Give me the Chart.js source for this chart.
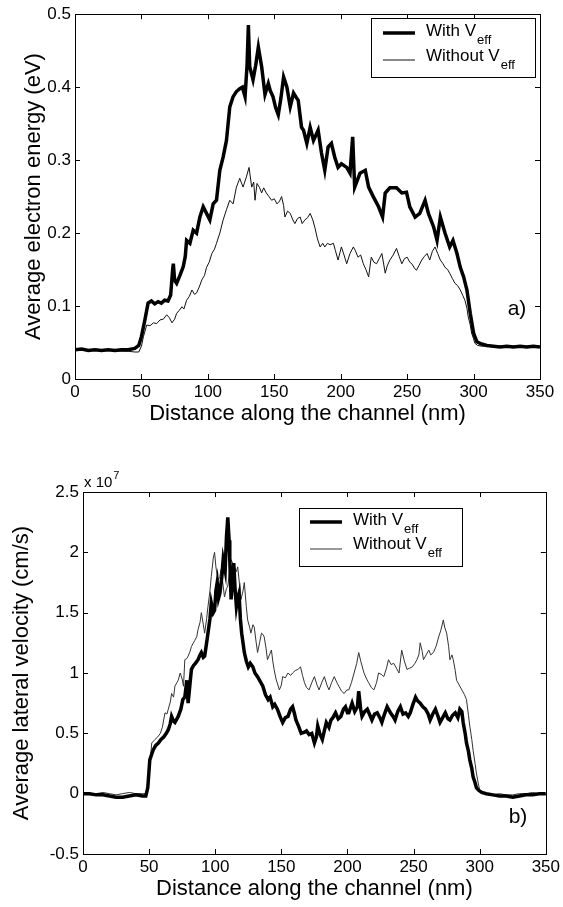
<!DOCTYPE html>
<html>
<head>
<meta charset="utf-8">
<script src="https://cdn.jsdelivr.net/npm/chart.js@4.4.0/dist/chart.umd.min.js"></script>
<style>
  body { margin: 0; background: #fff; }
  #energyBox { position: absolute; left: 0; top: 0; }
  #velocityBox { position: absolute; left: 0; top: 450px; }
</style>
</head>
<body>
<div id="energyBox"><canvas id="energy" width="563" height="432"></canvas></div>
<div id="velocityBox"><canvas id="velocity" width="563" height="457"></canvas></div>
<script>
// Tick values
const xTicks = [0, 50, 100, 150, 200, 250, 300, 350];
const energyTicks = [0, 0.1, 0.2, 0.3, 0.4, 0.5];
const velocityTicks = [-0.5, 0, 0.5, 1, 1.5, 2, 2.5];

// Series labels
const seriesNames = ['With V', 'Without V'];
const seriesSub = 'eff';

// a) Average electron energy (eV) vs distance (nm), [x, y]
const energyWith = [
  [0,0.040],[5,0.041],[10,0.039],[15,0.040],[20,0.039],[25,0.040],[30,0.039],[35,0.040],[40,0.040],[45,0.042],
  [48,0.046],[50,0.058],[52.5,0.080],[55,0.104],[57.5,0.107],[60,0.103],[62.5,0.106],[65,0.104],[67.5,0.108],[70,0.107],
  [72,0.115],[73.5,0.150],[74,0.158],[75,0.135],[76.5,0.131],[79,0.142],[81.5,0.154],[83,0.168],[84,0.190],[86.5,0.186],
  [89,0.204],[91.5,0.200],[94,0.222],[96.5,0.236],[99,0.227],[101.5,0.218],[104,0.240],[106.5,0.245],[109,0.286],[111.5,0.304],
  [114,0.327],[116.5,0.373],[119,0.387],[121.5,0.394],[124,0.398],[126,0.400],[128,0.387],[129.5,0.430],[130.5,0.485],[131.5,0.428],
  [134,0.410],[136,0.430],[138,0.455],[140.5,0.428],[143,0.390],[145.5,0.405],[147,0.395],[149,0.387],[151,0.372],[153,0.362],
  [155,0.385],[157,0.414],[159.5,0.400],[162,0.373],[164.5,0.392],[166.5,0.386],[168,0.382],[170.5,0.345],[172,0.341],[174.5,0.323],
  [177,0.345],[179.5,0.327],[183,0.341],[185.5,0.310],[188,0.286],[190.5,0.318],[193,0.323],[195.5,0.304],[198,0.290],[200.5,0.295],
  [204.5,0.290],[207,0.282],[209,0.332],[210.5,0.263],[214.5,0.282],[218.5,0.286],[221,0.263],[224.5,0.250],[228.5,0.236],[231.5,0.222],
  [233.5,0.255],[237,0.262],[242,0.262],[246,0.255],[249.5,0.256],[252,0.236],[256,0.222],[259.5,0.227],[263.5,0.245],[266,0.227],
  [270,0.208],[272.5,0.190],[275,0.222],[278.5,0.200],[282,0.181],[284.5,0.190],[287.5,0.172],[290,0.153],[292.5,0.140],[295,0.122],
  [297.5,0.090],[300,0.063],[302.5,0.051],[306,0.048],[310,0.046],[315,0.045],[320,0.044],[325,0.045],[330,0.044],[335,0.045],
  [340,0.044],[345,0.045],[350,0.044]
];
const energyWithout = [
  [0,0.040],[5,0.040],[10,0.039],[15,0.040],[20,0.039],[25,0.039],[30,0.039],[35,0.038],[40,0.038],[45,0.037],
  [48,0.037],[50,0.045],[51.5,0.058],[54,0.074],[56.5,0.073],[59,0.077],[61.5,0.076],[64,0.081],[66.5,0.082],[69,0.088],
  [71,0.084],[73,0.077],[75,0.082],[76.5,0.090],[78.5,0.094],[80.5,0.099],[82,0.096],[84,0.108],[86,0.113],[88,0.122],
  [90,0.116],[91.5,0.118],[93.5,0.126],[95.5,0.136],[97.5,0.142],[99,0.153],[101,0.160],[103,0.172],[105,0.178],[106.5,0.186],
  [109,0.200],[111.5,0.218],[114,0.232],[116.5,0.245],[119,0.240],[121.5,0.263],[124,0.275],[126.5,0.263],[129,0.277],[131,0.290],
  [133,0.263],[134.5,0.270],[135.5,0.245],[137,0.268],[139,0.262],[140.5,0.255],[142,0.262],[144,0.255],[146,0.250],[148,0.245],
  [150,0.247],[152,0.240],[154,0.244],[155.5,0.250],[157,0.238],[158,0.222],[160,0.230],[162,0.227],[164,0.218],[165.5,0.213],
  [167.5,0.220],[169.5,0.222],[171,0.213],[173,0.218],[175,0.221],[177,0.227],[179,0.218],[180.5,0.208],[182.5,0.192],[184.5,0.181],
  [186.5,0.186],[188,0.181],[190,0.186],[192,0.184],[194.5,0.186],[196,0.176],[198,0.163],[200.5,0.181],[202.5,0.170],[204.5,0.158],
  [207,0.172],[209.5,0.181],[211,0.176],[213,0.167],[215,0.170],[217,0.158],[219,0.150],[221,0.140],[223,0.167],[225,0.160],
  [227,0.158],[229,0.165],[231,0.172],[233.5,0.145],[235,0.155],[237,0.163],[239.5,0.170],[242,0.179],[244,0.168],[246,0.158],
  [248,0.165],[250,0.167],[252,0.160],[253.5,0.158],[255.5,0.152],[257,0.149],[259,0.156],[261,0.163],[263,0.168],[265,0.172],
  [267,0.163],[269,0.175],[271,0.181],[273,0.172],[275,0.163],[277,0.158],[278.5,0.153],[280.5,0.150],[282,0.145],[284,0.138],
  [286,0.131],[288,0.128],[290,0.122],[292,0.114],[293.5,0.108],[295,0.097],[296,0.085],[297.5,0.074],[298.5,0.063],[300,0.055],
  [301,0.049],[303,0.046],[306,0.045],[310,0.045],[315,0.044],[320,0.045],[325,0.044],[330,0.045],[335,0.044],[340,0.045],
  [345,0.044],[350,0.045]
];

// b) Average lateral velocity (x 10^7 cm/s) vs distance (nm), [x, y]
const velocityWith = [
  [0,0.00],[5,0.00],[10,-0.01],[15,-0.01],[20,-0.02],[25,-0.03],[30,-0.03],[35,-0.02],[40,-0.01],[45,-0.02],
  [47.5,-0.02],[49,0.05],[50.5,0.28],[53,0.36],[55,0.40],[57,0.42],[59,0.45],[61,0.47],[63,0.50],[64.5,0.53],
  [66,0.58],[67,0.64],[68.5,0.60],[69.5,0.59],[71,0.62],[72,0.64],[74,0.70],[75.5,0.78],[77,0.80],[78.5,0.94],
  [79.5,0.75],[81,0.92],[82,1.03],[83.5,1.06],[85,1.08],[87,1.11],[88.5,1.15],[89.5,1.17],[91,1.13],[92,1.14],
  [93.5,1.25],[94.5,1.33],[96,1.45],[97,1.58],[98.5,1.50],[99.5,1.52],[100.5,1.68],[101.5,1.75],[102.5,1.62],[103.5,1.66],
  [105,1.80],[106,1.94],[107.5,1.85],[108.5,2.13],[109.5,2.29],[110.5,2.10],[111,1.94],[112,1.61],[113,1.75],[114,1.91],
  [115,1.70],[116,1.55],[117,1.62],[118,1.66],[119,1.45],[120,1.33],[121,1.25],[122,1.17],[123.5,1.10],[125,1.05],
  [126.5,1.08],[128.5,1.05],[130,1.00],[132,0.97],[134,0.93],[136,0.89],[138,0.82],[140,0.78],[141.5,0.80],[143.5,0.72],
  [145,0.74],[147,0.70],[149,0.64],[151,0.59],[153,0.63],[155,0.64],[157,0.70],[158.5,0.72],[160,0.66],[161,0.61],
  [163,0.56],[165,0.50],[167.5,0.51],[169,0.52],[171,0.49],[173,0.50],[175,0.42],[176.5,0.47],[177.5,0.56],[179,0.50],
  [181,0.45],[182.5,0.52],[184,0.59],[186,0.55],[187.5,0.61],[189,0.63],[191,0.67],[193,0.62],[195,0.64],[197,0.70],
  [198.5,0.72],[200,0.67],[201,0.67],[203.5,0.75],[205.5,0.68],[207.5,0.72],[208.5,0.85],[210,0.70],[211,0.64],[213,0.68],
  [215,0.70],[217,0.65],[218.5,0.61],[220.5,0.66],[222.5,0.67],[224.5,0.63],[226,0.59],[228,0.66],[230,0.72],[232.5,0.67],
  [234.5,0.64],[236,0.61],[238,0.68],[240,0.72],[242,0.66],[244,0.67],[246,0.64],[247.5,0.67],[249.5,0.74],[251.5,0.80],
  [253,0.77],[255,0.75],[257,0.72],[259,0.70],[261,0.66],[262.5,0.61],[264.5,0.66],[266.5,0.70],[268.5,0.64],[270,0.59],
  [272,0.63],[274,0.67],[276,0.62],[277.5,0.61],[279.5,0.65],[281.5,0.67],[283.5,0.63],[285,0.70],[286.5,0.68],[287.5,0.59],
  [289,0.50],[290,0.42],[291.5,0.35],[292.5,0.28],[294,0.21],[295,0.14],[296.5,0.09],[297.5,0.05],[299,0.03],[301.5,0.01],
  [305,0.00],[310,-0.01],[315,-0.02],[320,-0.02],[325,-0.03],[330,-0.02],[335,-0.01],[340,-0.01],[345,0.00],[350,0.00]
];
const velocityWithout = [
  [0,0.01],[5,0.00],[10,0.00],[15,0.01],[20,0.00],[25,-0.01],[30,0.00],[35,0.01],[40,0.00],[45,0.00],
  [48,0.00],[49.5,0.10],[51,0.30],[52,0.42],[54.5,0.45],[56.5,0.47],[58.5,0.50],[60,0.55],[62,0.67],[63.5,0.66],
  [64.5,0.70],[66,0.76],[67,0.83],[68.5,0.80],[69.5,0.89],[71,0.92],[72,0.94],[73.5,1.00],[75,0.95],[76,0.89],
  [77,1.11],[78.5,1.12],[79.5,1.14],[81,1.18],[82,1.22],[83.5,1.25],[84.5,1.27],[86,1.30],[87,1.36],[88.5,1.42],
  [89.5,1.50],[91,1.40],[92,1.33],[93.5,1.45],[94.5,1.55],[96,1.68],[97,1.80],[98.5,1.95],[99.5,2.00],[100.5,1.88],
  [102,1.77],[103.5,1.80],[104.5,1.86],[106,1.72],[107,1.63],[108.5,1.70],[109.5,1.72],[111,1.85],[112,1.94],[113.5,1.90],
  [114.5,1.88],[116,1.84],[117,1.88],[118.5,1.72],[119.5,1.61],[121,1.68],[122,1.75],[123.5,1.55],[124.5,1.44],[126,1.38],
  [127,1.33],[128.5,1.40],[129.5,1.38],[131,1.25],[132,1.17],[133.5,1.25],[135,1.33],[136,1.32],[137,1.30],[138.5,1.20],
  [139.5,1.11],[141,1.15],[142.5,1.19],[143.5,1.10],[144.5,1.03],[146,0.95],[148.5,0.86],[150,0.90],[151,0.97],[153,0.96],
  [155,1.00],[157,0.98],[158.5,1.00],[160.5,1.02],[162.5,1.03],[164.5,1.05],[166,0.98],[167.5,0.92],[169,0.88],[171,0.86],
  [173,0.92],[175,0.97],[177,0.90],[178.5,0.86],[180.5,0.92],[182.5,0.97],[184.5,0.90],[186,0.86],[188,0.92],[190,0.97],
  [192,0.92],[193.5,0.89],[195.5,0.85],[197.5,0.83],[199.5,0.86],[201,0.86],[203,0.92],[205,1.00],[207,1.08],[208.5,1.17],
  [210,1.10],[212.5,1.00],[214.5,0.95],[216,0.92],[218,0.88],[220,0.86],[222,0.92],[223.5,1.00],[225.5,0.99],[227.5,0.97],
  [229.5,1.04],[231,1.11],[233,1.07],[235,1.08],[237,1.04],[239,1.00],[241,1.19],[243,1.10],[245,1.03],[247,1.04],
  [249,1.05],[251,1.08],[252.5,1.11],[254,1.15],[255,1.25],[256.5,1.18],[257.5,1.11],[259.5,1.15],[261.5,1.19],[263,1.15],
  [265,1.17],[267,1.22],[269,1.30],[270.5,1.35],[272.5,1.44],[273.5,1.38],[275,1.33],[276.5,1.22],[277.5,1.11],[279,1.15],
  [280,1.11],[281.5,1.02],[282.5,0.94],[284.5,0.90],[286.5,0.86],[288.5,0.82],[290,0.78],[291.5,0.65],[292.5,0.56],[294,0.45],
  [295,0.36],[296.5,0.25],[297.5,0.17],[299,0.08],[300,0.03],[302,0.01],[305,0.00],[310,-0.01],[315,0.00],[320,-0.01],
  [325,-0.01],[330,0.00],[335,0.00],[340,0.01],[345,0.00],[350,0.00]
];

const FONT = '"Liberation Sans", Arial, Helvetica, sans-serif';
const toXY = arr => arr.map(([x, y]) => ({ x, y }));

// MATLAB-like box, inward ticks on every side, legend and tags
function decoPlugin(cfg) {
  return {
    id: 'deco',
    afterDatasetsDraw(chart) {
      const { ctx, chartArea: a, scales: { x, y } } = chart;
      ctx.save();
      ctx.strokeStyle = '#000';
      ctx.lineWidth = 1;
      ctx.strokeRect(Math.round(a.left) + 0.5, Math.round(a.top) + 0.5,
        Math.round(a.right - a.left), Math.round(a.bottom - a.top));
      const L = 5;
      ctx.beginPath();
      x.ticks.forEach(t => {
        const px = Math.round(x.getPixelForValue(t.value)) + 0.5;
        ctx.moveTo(px, a.top); ctx.lineTo(px, a.top + L);
        ctx.moveTo(px, a.bottom); ctx.lineTo(px, a.bottom - L);
      });
      y.ticks.forEach(t => {
        const py = Math.round(y.getPixelForValue(t.value)) + 0.5;
        ctx.moveTo(a.left, py); ctx.lineTo(a.left + L, py);
        ctx.moveTo(a.right, py); ctx.lineTo(a.right - L, py);
      });
      ctx.stroke();

      // legend
      const lg = cfg.legend;
      ctx.fillStyle = '#fff';
      ctx.fillRect(lg.x, lg.y, lg.w, lg.h);
      ctx.strokeRect(lg.x + 0.5, lg.y + 0.5, lg.w, lg.h);
      ctx.fillStyle = '#000';
      lg.rows.forEach((r, i) => {
        ctx.beginPath();
        ctx.lineWidth = r.lw;
        ctx.strokeStyle = r.color;
        ctx.moveTo(lg.lineX0, r.y); ctx.lineTo(lg.lineX1, r.y);
        ctx.stroke();
        ctx.font = '17px ' + FONT;
        ctx.textBaseline = 'middle';
        ctx.textAlign = 'left';
        ctx.fillText(seriesNames[i], lg.textX, r.ty);
        const w = ctx.measureText(seriesNames[i]).width;
        ctx.font = '13px ' + FONT;
        ctx.fillText(seriesSub, lg.textX + w + 1, r.ty + 9);
      });

      // panel tag
      ctx.font = '21px ' + FONT;
      ctx.textAlign = 'center';
      ctx.textBaseline = 'middle';
      ctx.fillText(cfg.tag.text, cfg.tag.x, cfg.tag.y);

      // exponent
      if (cfg.exponent) {
        ctx.textAlign = 'left';
        ctx.font = '15px ' + FONT;
        ctx.fillText('x 10', cfg.exponent.x, cfg.exponent.y);
        const w = ctx.measureText('x 10').width;
        ctx.font = '11px ' + FONT;
        ctx.fillText('7', cfg.exponent.x + w + 1, cfg.exponent.y - 7);
      }
      ctx.restore();
    }
  };
}

function makeChart(id, opt) {
  return new Chart(document.getElementById(id), {
    type: 'line',
    data: {
      datasets: [
        { label: 'With Veff', data: toXY(opt.withData), borderColor: '#000', borderWidth: 3.5, pointRadius: 0, tension: 0 },
        { label: 'Without Veff', data: toXY(opt.withoutData), borderColor: opt.thinColor, borderWidth: 1, pointRadius: 0, tension: 0 }
      ]
    },
    options: {
      responsive: false,
      animation: false,
      devicePixelRatio: 1,
      layout: { padding: opt.padding },
      plugins: { legend: { display: false }, tooltip: { enabled: false } },
      scales: {
        x: {
          type: 'linear', min: 0, max: 350,
          afterBuildTicks: s => { s.ticks = xTicks.map(v => ({ value: v })); },
          afterFit: s => { s.height = opt.xAxisH; },
          grid: { display: false, drawTicks: false },
          border: { display: false },
          ticks: { color: '#000', padding: 3, maxRotation: 0, font: { family: FONT, size: 17 }, callback: v => String(v) },
          title: { display: true, text: 'Distance along the channel (nm)', color: '#000',
                   font: { family: FONT, size: 22 }, padding: { top: 0, bottom: 5 } }
        },
        y: {
          type: 'linear', min: opt.yMin, max: opt.yMax,
          afterBuildTicks: s => { s.ticks = opt.yTicks.map(v => ({ value: v })); },
          afterFit: s => { s.width = opt.yAxisW; },
          grid: { display: false, drawTicks: false },
          border: { display: false },
          ticks: { color: '#000', padding: 4, font: { family: FONT, size: 17 }, callback: v => String(v) },
          title: { display: true, text: opt.yTitle, color: '#000',
                   font: { family: FONT, size: 22 }, padding: { top: opt.yTitlePad, bottom: 0 } }
        }
      }
    },
    plugins: [decoPlugin(opt.deco)]
  });
}

makeChart('energy', {
  withData: energyWith, withoutData: energyWithout, thinColor: '#111',
  padding: { top: 14, right: 23, left: 0, bottom: 0 },
  xAxisH: 53, yAxisW: 75, yTitlePad: 21,
  yMin: 0, yMax: 0.5, yTicks: energyTicks,
  yTitle: 'Average electron energy (eV)',
  deco: {
    legend: { x: 371, y: 18, w: 164, h: 59, lineX0: 383, lineX1: 415, textX: 426,
      rows: [{ y: 33, ty: 31, lw: 3.5, color: '#000' }, { y: 60, ty: 56, lw: 1, color: '#111' }] },
    tag: { text: 'a)', x: 517, y: 309 }
  }
});

makeChart('velocity', {
  withData: velocityWith, withoutData: velocityWithout, thinColor: '#333',
  padding: { top: 42, right: 15, left: 0, bottom: 0 },
  xAxisH: 53, yAxisW: 83, yTitlePad: 9,
  yMin: -0.5, yMax: 2.5, yTicks: velocityTicks,
  yTitle: 'Average lateral velocity (cm/s)',
  deco: {
    legend: { x: 299, y: 58, w: 163, h: 58, lineX0: 310, lineX1: 342, textX: 353,
      rows: [{ y: 72, ty: 70, lw: 3.5, color: '#000' }, { y: 99, ty: 94, lw: 1, color: '#333' }] },
    tag: { text: 'b)', x: 518, y: 367 },
    exponent: { x: 84, y: 33 }
  }
});
</script>
</body>
</html>
